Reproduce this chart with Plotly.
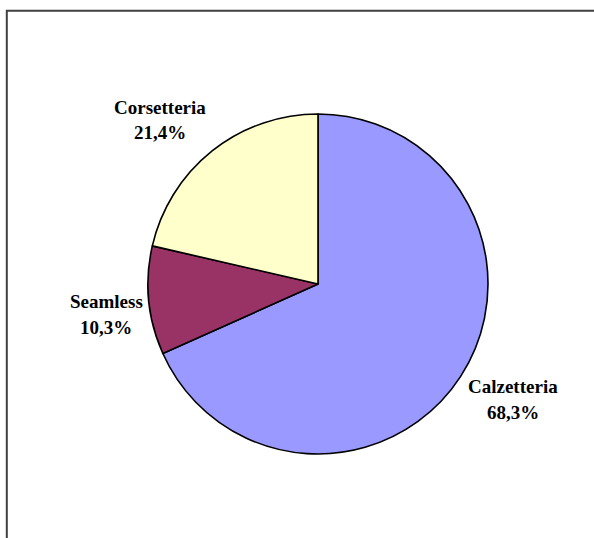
import plotly.graph_objects as go

categories = ["Calzetteria", "Seamless", "Corsetteria"]
values = [68.3, 10.3, 21.4]
pct_labels = ["68,3%", "10,3%", "21,4%"]
colors = ["#9999FF", "#993366", "#FFFFCC"]

W, H = 594, 538
cx, cy, R = 318, 284, 170

fig = go.Figure(go.Pie(
    labels=categories,
    values=values,
    sort=False,
    direction="clockwise",
    rotation=0,
    marker=dict(colors=colors, line=dict(color="black", width=1.6)),
    textinfo="none",
    hoverinfo="label+percent",
    showlegend=False,
    domain=dict(x=[(cx - R) / W, (cx + R) / W], y=[(H - cy - R) / H, (H - cy + R) / H]),
))

# label block centres (pixels) for each slice
label_pos = [(513, 398), (106, 313), (160, 119)]
line_gap = 26
font = dict(family="Liberation Serif, Times New Roman, serif", size=19, color="black")
annotations = []
for name, pct, (px, py) in zip(categories, pct_labels, label_pos):
    for txt, dy in ((name, -line_gap / 2), (pct, line_gap / 2)):
        annotations.append(dict(
            x=px / W, y=1 - (py + dy + 1) / H, xref="paper", yref="paper",
            text=f"<b>{txt}</b>",
            showarrow=False, xanchor="center", yanchor="middle", align="center",
            font=font,
        ))

fig.update_layout(
    width=W, height=H,
    margin=dict(l=0, r=0, t=0, b=0),
    paper_bgcolor="white", plot_bgcolor="white",
    annotations=annotations,
    shapes=[dict(type="rect", xref="paper", yref="paper",
                 x0=6.8 / W, x1=1.05, y0=-0.05, y1=1 - 10.8 / H,
                 line=dict(color="#404040", width=2), fillcolor="rgba(0,0,0,0)")],
)

fig.write_html("out.html")
